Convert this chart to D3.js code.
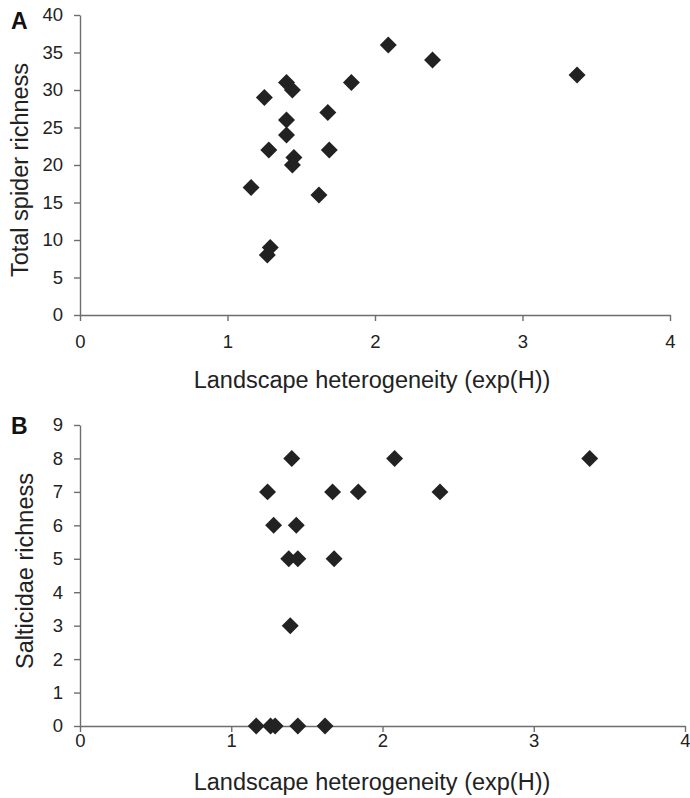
<!DOCTYPE html>
<html>
<head>
<meta charset="utf-8">
<script src="https://cdn.jsdelivr.net/npm/d3@7"></script>
<style>
  body { margin: 0; background: #fff; }
  svg { display: block; font-family: "Liberation Sans", Arial, sans-serif; }
  .tick text { fill: #222; }
</style>
</head>
<body>
<div id="chart"></div>
<script>
// landscape heterogeneity (exp(H)) and richness values
var heteroA = [2.09, 2.39, 3.37, 1.84, 1.40, 1.44, 1.25, 1.68, 1.40, 1.40, 1.28, 1.69, 1.45, 1.44, 1.16, 1.62, 1.29, 1.27];
var totalRichness = [36, 34, 32, 31, 31, 30, 29, 27, 26, 24, 22, 22, 21, 20, 17, 16, 9, 8];

var heteroB = [1.40, 2.08, 3.37, 1.24, 1.67, 1.84, 2.38, 1.28, 1.43, 1.38, 1.44, 1.68, 1.39, 1.165, 1.26, 1.29, 1.44, 1.62];
var salticidaeRichness = [8, 8, 8, 7, 7, 7, 7, 6, 6, 5, 5, 5, 3, 0, 0, 0, 0, 0];

var xTicks = [0, 1, 2, 3, 4];
var yTicksA = [0, 5, 10, 15, 20, 25, 30, 35, 40];
var yTicksB = [0, 1, 2, 3, 4, 5, 6, 7, 8, 9];

var svgWidth = 690;
var svgHeight = 798;

var svg = d3.select("#chart")
    .append("svg")
    .attr("width", svgWidth)
    .attr("height", svgHeight);

var axisColor = "#6e6e6e";
var markColor = "#222";

// draws one scatter panel
function drawPanel(opts) {
    var xScale = d3.scaleLinear().domain([0, 4]).range([opts.left, opts.right]);
    var yScale = d3.scaleLinear().domain(opts.yDomain).range([opts.bottom, opts.top]);

    var bottomAxis = d3.axisBottom(xScale)
        .tickValues(xTicks)
        .tickFormat(d3.format("d"))
        .tickSize(6)
        .tickSizeOuter(0)
        .tickPadding(opts.xPad);

    var leftAxis = d3.axisLeft(yScale)
        .tickValues(opts.yTicks)
        .tickFormat(d3.format("d"))
        .tickSize(6)
        .tickSizeOuter(0)
        .tickPadding(11);

    var gx = svg.append("g")
        .attr("transform", `translate(0, ${opts.bottom})`)
        .call(bottomAxis);

    var gy = svg.append("g")
        .attr("transform", `translate(${opts.left}, 0)`)
        .call(leftAxis);

    [gx, gy].forEach(function(g) {
        g.selectAll("path, line").attr("stroke", axisColor).attr("stroke-width", 1.4);
        g.selectAll("text")
            .style("font-size", "18.5px")
            .style("font-family", "'Liberation Sans', Arial, sans-serif");
    });

    var diamond = d3.symbol().type(d3.symbolSquare).size(144);

    svg.append("g")
        .selectAll("path")
        .data(opts.xs)
        .enter()
        .append("path")
        .attr("d", diamond)
        .attr("transform", function(d, i) {
            return `translate(${xScale(d)}, ${yScale(opts.ys[i])}) rotate(45)`;
        })
        .attr("fill", markColor);

    // x-axis title
    svg.append("text")
        .attr("x", (opts.left + 670) / 2 - 3)
        .attr("y", opts.xTitleY)
        .attr("text-anchor", "middle")
        .style("font-size", "23.5px")
        .attr("fill", "#222")
        .text("Landscape heterogeneity (exp(H))");

    // y-axis title
    svg.append("text")
        .attr("transform", `translate(${opts.yTitleX}, ${opts.yTitleMid}) rotate(-90)`)
        .attr("text-anchor", "middle")
        .style("font-size", "23.5px")
        .attr("fill", "#222")
        .text(opts.yTitle);

    // panel letter
    svg.append("text")
        .attr("x", 11)
        .attr("y", opts.letterY)
        .style("font-size", "23px")
        .style("font-weight", "bold")
        .attr("fill", "#111")
        .text(opts.letter);
}

drawPanel({
    letter: "A",
    letterY: 29,
    left: 80, right: 670, top: 15, bottom: 315,
    yDomain: [0, 40],
    yTicks: yTicksA,
    xs: heteroA,
    ys: totalRichness,
    xPad: 14,
    xTitleY: 388,
    yTitle: "Total spider richness",
    yTitleX: 28,
    yTitleMid: 170
});

drawPanel({
    letter: "B",
    letterY: 434,
    left: 80, right: 685, top: 425, bottom: 726,
    yDomain: [0, 9],
    yTicks: yTicksB,
    xs: heteroB,
    ys: salticidaeRichness,
    xPad: 2,
    xTitleY: 790,
    yTitle: "Salticidae richness",
    yTitleX: 33,
    yTitleMid: 571
});
</script>
</body>
</html>
